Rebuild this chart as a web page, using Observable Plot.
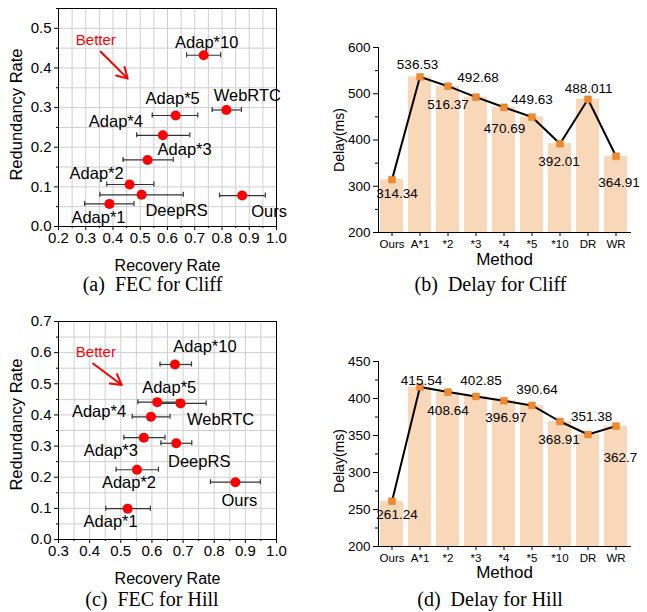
<!DOCTYPE html>
<html><head><meta charset="utf-8">
<script src="https://cdn.jsdelivr.net/npm/d3@7"></script>
<script src="https://cdn.jsdelivr.net/npm/@observablehq/plot@0.6"></script>
<style>
body{margin:0;background:#fff;}
#root{position:relative;width:647px;height:612px;overflow:hidden;}
.panel{position:absolute;}
.panel svg{display:block;overflow:visible;}
</style></head><body><div id="root"></div>
<script>
// ---------- data ----------
const fecNames = ["Ours","Adap*1","Adap*2","Adap*3","Adap*4","Adap*5","Adap*10","WebRTC","DeepRS"];

// (a) FEC for Cliff
const recoveryCliff   = [0.874, 0.387, 0.461, 0.527, 0.583, 0.630, 0.733, 0.816, 0.505];
const redundancyCliff = [0.078, 0.057, 0.106, 0.168, 0.230, 0.280, 0.432, 0.294, 0.080];
const recLowCliff     = [0.791, 0.296, 0.377, 0.437, 0.487, 0.544, 0.670, 0.764, 0.352];
const recHighCliff    = [0.959, 0.477, 0.550, 0.621, 0.682, 0.711, 0.795, 0.871, 0.658];

// (c) FEC for Hill
const recoveryHill   = [0.868, 0.522, 0.552, 0.574, 0.597, 0.617, 0.674, 0.692, 0.678];
const redundancyHill = [0.184, 0.099, 0.224, 0.327, 0.394, 0.441, 0.562, 0.437, 0.309];
const recLowHill     = [0.788, 0.452, 0.485, 0.510, 0.537, 0.555, 0.626, 0.610, 0.629];
const recHighHill    = [0.948, 0.595, 0.621, 0.642, 0.658, 0.680, 0.727, 0.774, 0.728];

// delay panels
const methods    = ["Ours","A*1","*2","*3","*4","*5","*10","DR","WR"];
const delayCliff = [314.34, 536.53, 516.37, 492.68, 470.69, 449.63, 392.01, 488.011, 364.91];
const delayHill  = [261.24, 415.54, 408.64, 402.85, 396.97, 390.64, 368.91, 351.38, 362.7];

// tick values
const xTicksA = [0.2,0.3,0.4,0.5,0.6,0.7,0.8,0.9,1.0];
const xMinorA = [0.25,0.35,0.45,0.55,0.65,0.75,0.85,0.95];
const yTicksA = [0.0,0.1,0.2,0.3,0.4,0.5];
const yMinorA = [0.05,0.15,0.25,0.35,0.45,0.55];
const xTicksC = [0.3,0.4,0.5,0.6,0.7,0.8,0.9,1.0];
const xMinorC = [0.35,0.45,0.55,0.65,0.75,0.85,0.95];
const yTicksC = [0.0,0.1,0.2,0.3,0.4,0.5,0.6,0.7];
const yMinorC = [0.05,0.15,0.25,0.35,0.45,0.55,0.65];
const yTicksB = [200,300,400,500,600];
const yMinorB = [250,350,450,550];
const yTicksD = [200,250,300,350,400,450];
const yMinorD = [225,275,325,375,425];

// "Better" annotations (data space)
const betterCliff = [{tx:0.337, ty:0.471, x1:0.355, y1:0.441, x2:0.454, y2:0.373}];
const betterHill  = [{tx:0.420, ty:0.601, x1:0.411, y1:0.565, x2:0.503, y2:0.496}];

// ---------- layout (label offsets in px) ----------
const offA = [[27,16],[-11,14],[-33,-11],[37,-10],[-47,-14],[-3,-17],[3,-13],[21,-14],[35,16]];
const offC = [[4,19],[-17,13],[-8,13],[-33,13],[-52,-5],[12,-14],[30,-18],[40,16],[23,18]];
const offB = [[5,14.5],[-2.5,-12],[0,18],[2,-19],[0.5,21.7],[0,-17],[-1,18],[0.6,-11],[3,26]];
const offD = [[5,13],[1.5,-6.5],[0,19],[5,-16],[2,17],[5,-15.6],[-1,18],[3.6,-18],[4.4,32]];

const SANS = "Liberation Sans, Arial, sans-serif";
const SERIF = "Liberation Serif, Times New Roman, serif";
const root = document.getElementById("root");

function place(el, left, top) {
  const d = document.createElement("div");
  d.className = "panel";
  d.style.left = left + "px";
  d.style.top = top + "px";
  d.appendChild(el);
  root.appendChild(d);
}

const C = {textAnchor: "middle", lineAnchor: "middle"};

function scatter({rec, red, lo, hi, xDomain, yDomain, xTicks, xMinor, yTicks, yMinor, off, better, height, marginTop, marginBottom, caption, capDx, capDy, ylabDy, xlabDy}) {
  const rows = fecNames.map((n, i) => ({n, x: rec[i], y: red[i], lo: lo[i], hi: hi[i]}));
  const gx = xTicks.concat(xMinor), gy = yTicks.concat(yMinor);
  return Plot.plot({
    width: 320, height,
    marginLeft: 58, marginRight: 44, marginTop, marginBottom,
    style: {fontFamily: SANS, color: "black", background: "white"},
    x: {domain: xDomain}, y: {domain: yDomain},
    marks: [
      Plot.gridX(gx, {stroke: "#cfcfcf", strokeOpacity: 1}),
      Plot.gridY(gy, {stroke: "#cfcfcf", strokeOpacity: 1}),
      Plot.frame({stroke: "black"}),
      Plot.axisX(xTicks, {tickSize: 4, tickPadding: 2, tickFormat: d => d.toFixed(1), fontSize: 15, label: null}),
      Plot.axisX(xMinor, {tickSize: 2, fill: "none", label: null}),
      Plot.axisY(yTicks, {tickSize: 4, tickPadding: 3, tickFormat: d => d.toFixed(1), fontSize: 15, label: null}),
      Plot.axisY(yMinor, {tickSize: 2, fill: "none", label: null}),
      Plot.ruleY(rows, {y: "y", x1: "lo", x2: "hi", stroke: "#333", strokeWidth: 1.2}),
      Plot.ruleX(rows, {x: "lo", y1: "y", y2: "y", insetTop: -2.5, insetBottom: -2.5, stroke: "#333", strokeWidth: 1.2}),
      Plot.ruleX(rows, {x: "hi", y1: "y", y2: "y", insetTop: -2.5, insetBottom: -2.5, stroke: "#333", strokeWidth: 1.2}),
      Plot.dot(rows, {x: "x", y: "y", r: 5, fill: "#ff0000"}),
      ...rows.map((r, i) => Plot.text([r], {x: "x", y: "y", text: "n", dx: off[i][0], dy: off[i][1], fontSize: 16.5, fill: "black"})),
      Plot.arrow(better, {x1: "x1", y1: "y1", x2: "x2", y2: "y2", stroke: "#ff0000", strokeWidth: 2, headLength: 9}),
      Plot.text(better, {x: "tx", y: "ty", text: () => "Better", fill: "#ff0000", fontSize: 15}),
      Plot.text(["Recovery Rate"], {...C, frameAnchor: "bottom", dy: xlabDy, text: d => d, fontSize: 16}),
      Plot.text(["Redundancy Rate"], {...C, frameAnchor: "left", dx: -42, dy: ylabDy, rotate: -90, text: d => d, fontSize: 16.5}),
      Plot.text([caption], {...C, frameAnchor: "bottom", dx: capDx, dy: capDy, text: d => d, fontSize: 20, fontFamily: SERIF})
    ]
  });
}

function delay({values, yDomain, yTicks, yMinor, off, height, marginTop, marginBottom, caption, capDx, capDy, mDy, ylabDy}) {
  const rows = methods.map((m, i) => ({m, v: values[i], label: String(values[i])}));
  const base = yTicks[0];
  return Plot.plot({
    width: 327, height,
    marginLeft: 58, marginRight: 17, marginTop, marginBottom,
    style: {fontFamily: SANS, color: "black", background: "white"},
    x: {type: "band", domain: methods, paddingInner: 0.17, paddingOuter: 0.06},
    y: {domain: yDomain},
    marks: [
      Plot.barY(rows, {x: "m", y1: () => base, y2: "v", fill: "#f9d8ba"}),
      Plot.frame({anchor: "left", stroke: "black"}),
      Plot.frame({anchor: "bottom", stroke: "black"}),
      Plot.axisX({tickSize: 4, tickPadding: 3, fontSize: 11.5, label: null}),
      Plot.axisY(yTicks, {tickSize: 5, tickPadding: 3, fontSize: 13.5, label: null}),
      Plot.axisY(yMinor, {tickSize: 3, fill: "none", label: null}),
      Plot.line(rows, {x: "m", y: "v", stroke: "black", strokeWidth: 2}),
      Plot.dot(rows, {x: "m", y: "v", symbol: "square", r: 3.8, fill: "#f08a2c", stroke: "#e07820", strokeWidth: 0.5}),
      ...rows.map((r, i) => Plot.text([r], {x: "m", y: "v", text: "label", dx: off[i][0], dy: off[i][1], fontSize: 13.5, fill: "black"})),
      Plot.text(["Method"], {...C, frameAnchor: "bottom", dy: mDy, text: d => d, fontSize: 17}),
      Plot.text(["Delay(ms)"], {...C, frameAnchor: "left", dx: -39, dy: ylabDy, rotate: -90, text: d => d, fontSize: 14}),
      Plot.text([caption], {...C, frameAnchor: "bottom", dx: capDx, dy: capDy, text: d => d, fontSize: 20, fontFamily: SERIF})
    ]
  });
}

place(scatter({rec: recoveryCliff, red: redundancyCliff, lo: recLowCliff, hi: recHighCliff,
  xDomain: [0.2, 1.0], yDomain: [0, 0.55], xTicks: xTicksA, xMinor: xMinorA, yTicks: yTicksA, yMinor: yMinorA,
  off: offA, better: betterCliff, height: 300, marginTop: 8, marginBottom: 74,
  caption: "(a)  FEC for Cliff", capDx: -15, capDy: 58, ylabDy: -3, xlabDy: 39}), 0, 0);

place(delay({values: delayCliff, yDomain: [200, 600], yTicks: yTicksB, yMinor: yMinorB, off: offB,
  height: 300, marginTop: 47, marginBottom: 68, caption: "(b)  Delay for Cliff", capDx: -14, capDy: 52, mDy: 27, ylabDy: 0}), 320, 0);

place(scatter({rec: recoveryHill, red: redundancyHill, lo: recLowHill, hi: recHighHill,
  xDomain: [0.3, 1.0], yDomain: [0, 0.7], xTicks: xTicksC, xMinor: xMinorC, yTicks: yTicksC, yMinor: yMinorC,
  off: offC, better: betterHill, height: 312, marginTop: 21, marginBottom: 73,
  caption: "(c)  FEC for Hill", capDx: -15.6, capDy: 60, ylabDy: -6, xlabDy: 39}), 0, 300);

place(delay({values: delayHill, yDomain: [200, 450], yTicks: yTicksD, yMinor: yMinorD, off: offD,
  height: 312, marginTop: 61, marginBottom: 66, caption: "(d)  Delay for Hill", capDx: -14.5, capDy: 53, mDy: 26, ylabDy: 7}), 320, 300);
</script>
</body></html>
